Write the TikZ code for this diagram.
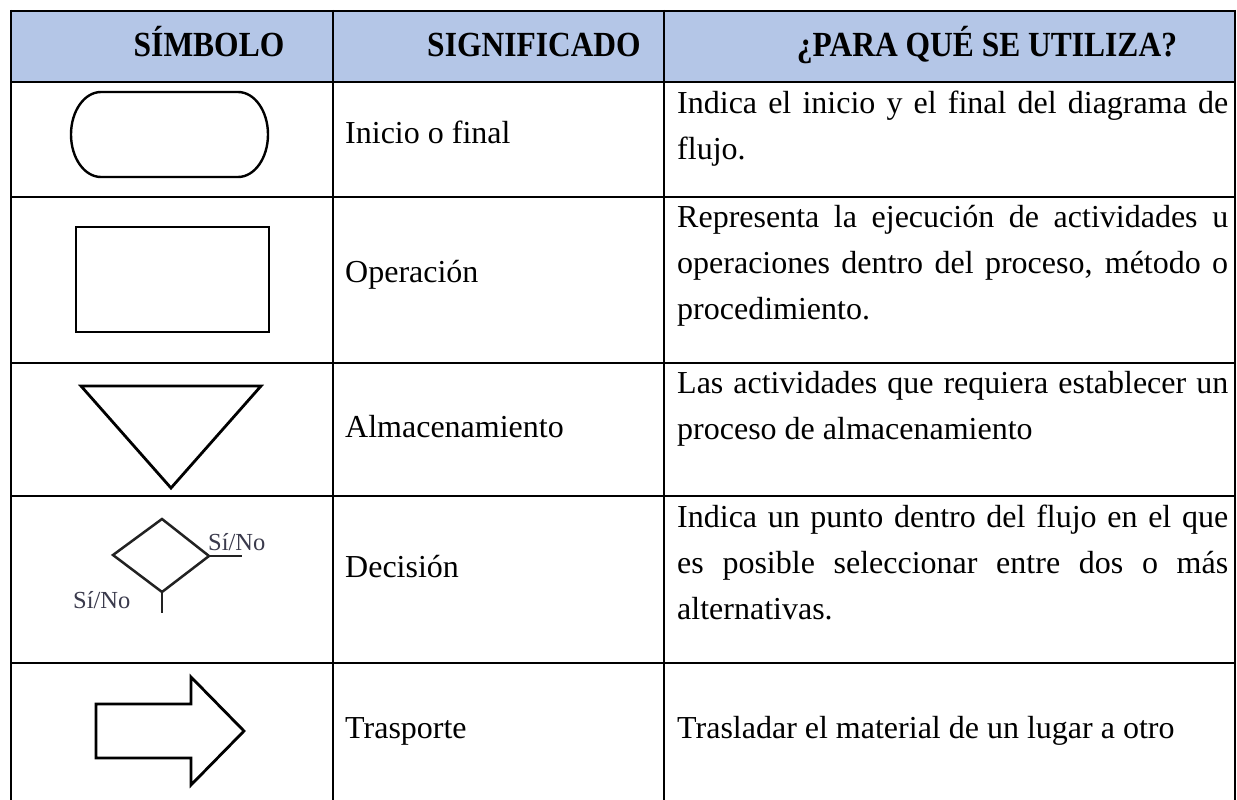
\documentclass[tikz,border=0pt]{standalone}
\usepackage{fontspec}
\setmainfont{Liberation Serif}
\definecolor{hdrblue}{HTML}{B4C6E7}
\definecolor{labgray}{HTML}{3A3A4C}
\definecolor{symgray}{HTML}{222222}
\begin{document}
\begin{tikzpicture}[x=1pt,y=-1pt,
  gridline/.style={line width=2.6pt, black},
  sym/.style={line width=2.8pt, black, line join=miter},
  hdr/.style={anchor=base, inner sep=0pt, yscale=1.12, font=\fontsize{31.5}{36}\selectfont\bfseries},
  body/.style={anchor=base west, inner sep=0pt, font=\fontsize{32}{38}\selectfont},
  yn/.style={anchor=base west, inner sep=0pt, text=labgray, font=\fontsize{24.5}{28}\selectfont}]
\useasboundingbox (0,0) rectangle (1237,800);
\fill[white] (0,0) rectangle (1237,800);
% header band
\fill[hdrblue] (11,11) rectangle (1235,82);
% grid
\draw[gridline] (10,11) -- (1236,11);
\draw[gridline] (10,82) -- (1236,82);
\draw[gridline] (10,197) -- (1236,197);
\draw[gridline] (10,363) -- (1236,363);
\draw[gridline] (10,496) -- (1236,496);
\draw[gridline] (10,663) -- (1236,663);
\draw[gridline] (11,10) -- (11,800);
\draw[gridline] (333,10) -- (333,800);
\draw[gridline] (664,10) -- (664,800);
\draw[gridline] (1235,10) -- (1235,800);
% headers
\node[hdr] (h1) at (209,57) {SÍMBOLO};
\node[hdr] (h2) at (534,57) {SIGNIFICADO};
\node[hdr] (h3) at (987,57) {¿PARA QUÉ SE UTILIZA?};
% symbols
\draw[sym, line width=2.4pt] (101,92) -- (238,92)
  arc[start angle=270, end angle=450, x radius=30, y radius=42.5]
  -- (101,177)
  arc[start angle=90, end angle=270, x radius=30, y radius=42.5] -- cycle;
\draw[sym] (76,227) rectangle (269,332);
\draw[sym] (81,386) -- (261,386) -- (171,488) -- cycle;
\draw[sym, symgray, line width=2.5pt] (162,519) -- (209,556) -- (162,592) -- (113,555) -- cycle;
\draw[sym, symgray, line width=2.5pt] (209,556) -- (242,556);
\draw[sym, symgray, line width=2.5pt] (162,592) -- (162,613);
\node[yn] (yn1) at (208,550) {Sí/No};
\node[yn] (yn2) at (73,608) {Sí/No};
\draw[sym] (96,704) -- (191,704) -- (191,677) -- (244,731) -- (191,785) -- (191,758) -- (96,758) -- cycle;
% column 2
\node[body] (m1) at (345,143) {Inicio o final};
\node[body] (m2) at (345,282) {Operación};
\node[body] (m3) at (345,437) {Almacenamiento};
\node[body] (m4) at (345,577) {Decisión};
\node[body] (m5) at (345,738) {Trasporte};
% column 3
\node[body] (u1a) at (677,113) {\makebox[551pt][s]{Indica el inicio y el final del diagrama de}};
\node[body] (u1b) at (677,159) {flujo.};
\node[body] (u2a) at (677,227) {\makebox[551pt][s]{Representa la ejecución de actividades u}};
\node[body] (u2b) at (677,273) {\makebox[551pt][s]{operaciones dentro del proceso, método o}};
\node[body] (u2c) at (677,319) {procedimiento.};
\node[body] (u3a) at (677,393) {\makebox[551pt][s]{Las actividades que requiera establecer un}};
\node[body] (u3b) at (677,439) {proceso de almacenamiento};
\node[body] (u4a) at (677,527) {\makebox[551pt][s]{Indica un punto dentro del flujo en el que}};
\node[body] (u4b) at (677,573) {\makebox[551pt][s]{es posible seleccionar entre dos o más}};
\node[body] (u4c) at (677,619) {alternativas.};
\node[body] (u5a) at (677,738) {Trasladar el material de un lugar a otro};
\end{tikzpicture}
\end{document}
